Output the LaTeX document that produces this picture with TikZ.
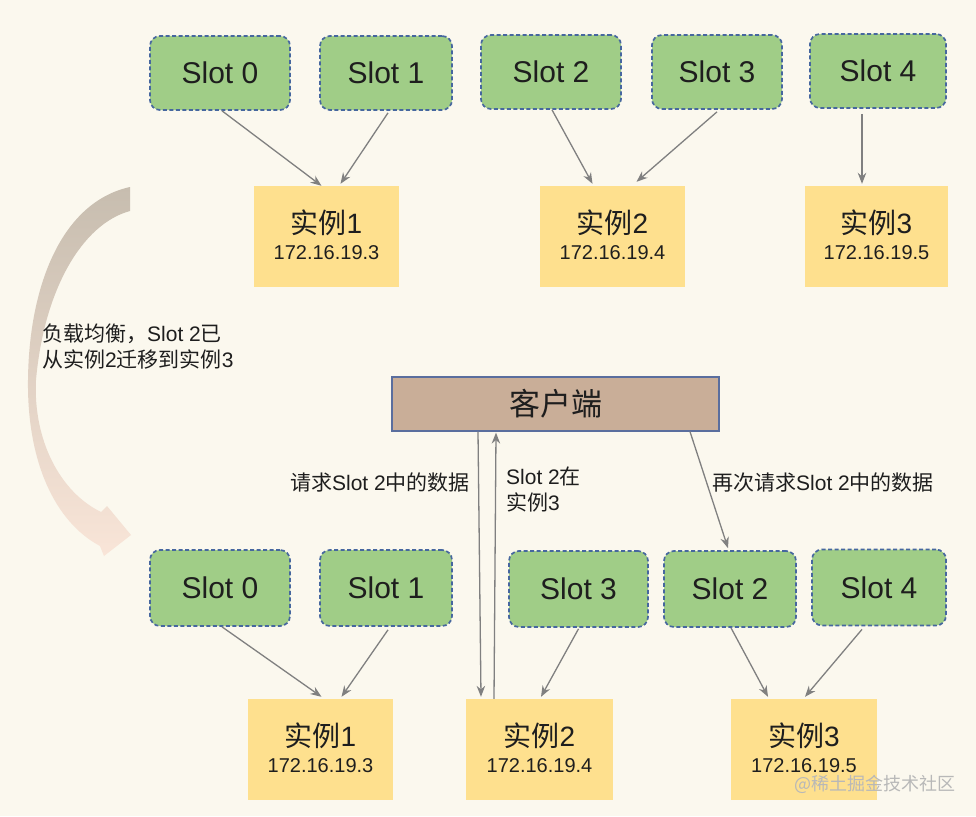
\documentclass[tikz,border=0pt]{standalone}
\usepackage{fontspec}
\setmainfont{Liberation Sans}
\newfontfamily\cjk{Noto Sans CJK SC}
\usetikzlibrary{arrows.meta,calc}
\definecolor{bg}{HTML}{FBF8EE}
\definecolor{slotfill}{HTML}{A0CD87}
\definecolor{slotdraw}{HTML}{46679F}
\definecolor{instfill}{HTML}{FEE08E}
\definecolor{clifill}{HTML}{C9AE98}
\definecolor{clidraw}{HTML}{5A6E9E}
\definecolor{arr}{HTML}{808080}
\definecolor{txt}{HTML}{1E1E1E}
\begin{document}
\begin{tikzpicture}[x=1pt,y=-1pt,
  slotbox/.style={draw=slotdraw, fill=slotfill, line width=1.7pt, dash pattern=on 4pt off 2.5pt,
    rounded corners=10pt, minimum height=74pt, inner sep=0pt, text=txt,
    font=\fontsize{30}{32}\selectfont},
  instbox/.style={fill=instfill, minimum width=145pt, minimum height=101pt, inner sep=0pt},
  ttl/.style={text=txt, inner sep=0pt, font=\fontsize{28}{30}\selectfont},
  ipt/.style={text=txt, inner sep=0pt, font=\fontsize{20}{22}\selectfont},
  lbl/.style={text=txt, inner sep=0pt, font=\fontsize{21}{25.5}\selectfont},
  conn/.style={draw=arr, line width=1.3pt, -{Stealth[length=11pt,width=8.5pt]}}
]
\useasboundingbox (0,0) rectangle (976,816);
\fill[bg] (0,0) rectangle (976,816);

% curved migration arrow
\shade[top color={rgb,255:red,199;green,189;blue,175}, middle color={rgb,255:red,236;green,226;blue,214}, bottom color={rgb,255:red,249;green,229;blue,216}]
  (130,187) -- (130,211)
  .. controls (82,224) and (44,290) .. (36,380)
  .. controls (33,440) and (60,492) .. (101,512)
  -- (107,506) -- (131,535) -- (104,556) -- (100,546)
  .. controls (55,522) and (27,462) .. (28,380)
  .. controls (29,285) and (62,202) .. (130,187) -- cycle;

\node[lbl, anchor=north west, align=left] (mig) at (42,324) {{\cjk 负载均衡，}Slot 2{\cjk 已}\\{\cjk 从实例}2{\cjk 迁移到实例}3};

% top row
\node[slotbox, minimum width=140pt] (s0) at (220,73) {Slot 0};
\node[slotbox, minimum width=132pt] (s1) at (386,73) {Slot 1};
\node[slotbox, minimum width=140pt] (s2) at (551,72) {Slot 2};
\node[slotbox, minimum width=130pt] (s3) at (717,72) {Slot 3};
\node[slotbox, minimum width=136pt] (s4) at (878,71) {Slot 4};

\node[instbox] (i1) at (326.5,236.5) {};
\node[instbox] (i2) at (612.5,236.5) {};
\node[instbox, minimum width=143pt] (i3) at (876.5,236.5) {};
\node[ttl] (i1t) at ([yshift=14]i1.center) {{\cjk 实例}1};
\node[ipt] (i1p) at ([yshift=-16.5]i1.center) {172.16.19.3};
\node[ttl] (i2t) at ([yshift=14]i2.center) {{\cjk 实例}2};
\node[ipt] (i2p) at ([yshift=-16.5]i2.center) {172.16.19.4};
\node[ttl] (i3t) at ([yshift=14]i3.center) {{\cjk 实例}3};
\node[ipt] (i3p) at ([yshift=-16.5]i3.center) {172.16.19.5};

\draw[conn] ([xshift=2pt]s0.south) -- ([xshift=-5pt]i1.north);
\draw[conn] ([xshift=2pt,yshift=-2pt]s1.south) -- ([xshift=14pt,yshift=2pt]i1.north);
\draw[conn] ([xshift=1pt]s2.south) -- ([xshift=-20pt,yshift=2pt]i2.north);
\draw[conn] ([xshift=0pt,yshift=-2pt]s3.south) -- ([xshift=24pt,yshift=4pt]i2.north);
\draw[conn] ([xshift=-16pt,yshift=-5pt]s4.south) -- ([xshift=-14.5pt,yshift=2pt]i3.north);

% client
\node[draw=clidraw, fill=clifill, line width=1.2pt, minimum width=327pt, minimum height=54pt, inner sep=0pt,
  text=txt, font=\cjk\fontsize{31}{33}\selectfont] (cli) at (555.5,404) {客户端};

% bottom row
\node[slotbox, minimum width=140pt, minimum height=76pt] (b0) at (220,588) {Slot 0};
\node[slotbox, minimum width=132pt, minimum height=76pt] (b1) at (386,588) {Slot 1};
\node[slotbox, minimum width=139pt, minimum height=76pt] (b3) at (578.5,589) {Slot 3};
\node[slotbox, minimum width=132pt, minimum height=76pt] (b2) at (730,589) {Slot 2};
\node[slotbox, minimum width=134pt, minimum height=76pt] (b4) at (879,587.5) {Slot 4};

\node[instbox] (j1) at (320.5,749.5) {};
\node[instbox, minimum width=147pt] (j2) at (539.5,749.5) {};
\node[instbox, minimum width=146pt] (j3) at (804,749.5) {};
\node[ttl] (j1t) at ([yshift=14]j1.center) {{\cjk 实例}1};
\node[ipt] (j1p) at ([yshift=-16.5]j1.center) {172.16.19.3};
\node[ttl] (j2t) at ([yshift=14]j2.center) {{\cjk 实例}2};
\node[ipt] (j2p) at ([yshift=-16.5]j2.center) {172.16.19.4};
\node[ttl] (j3t) at ([yshift=14]j3.center) {{\cjk 实例}3};
\node[ipt] (j3p) at ([yshift=-16.5]j3.center) {172.16.19.5};

\draw[conn] ([xshift=2pt]b0.south) -- ([xshift=1pt,yshift=2pt]j1.north);
\draw[conn] ([xshift=2pt,yshift=-3pt]b1.south) -- ([xshift=21pt,yshift=2pt]j1.north);
\draw[conn] ([xshift=0pt,yshift=-1pt]b3.south) -- ([xshift=1.5pt,yshift=2pt]j2.north);
\draw[conn] ([xshift=1pt]b2.south) -- ([xshift=-36pt,yshift=2pt]j3.north);
\draw[conn] ([xshift=-17pt,yshift=-3pt]b4.south) -- ([xshift=1pt,yshift=2pt]j3.north);

% client interactions
\draw[conn] ([xshift=-77.5pt]cli.south) -- ([xshift=-58.5pt,yshift=2pt]j2.north);
\draw[conn] ([xshift=-45.5pt]j2.north) -- ([xshift=-59.5pt,yshift=-1pt]cli.south);
\draw[conn] ([xshift=134.5pt]cli.south) -- ([xshift=-2pt,yshift=2pt]b2.north);

\node[lbl, anchor=east] (q1) at (470,483) {{\cjk 请求}Slot 2{\cjk 中的数据}};
\node[lbl, anchor=north west, align=left] (q2) at (506,467) {Slot 2{\cjk 在}\\{\cjk 实例}3};
\node[lbl, anchor=west] (q3) at (712,483) {{\cjk 再次请求}Slot 2{\cjk 中的数据}};

\node[inner sep=0pt, text=black!28, font=\cjk\fontsize{18}{20}\selectfont, anchor=west] (wm) at (794,784) {@稀土掘金技术社区};
\end{tikzpicture}
\end{document}
